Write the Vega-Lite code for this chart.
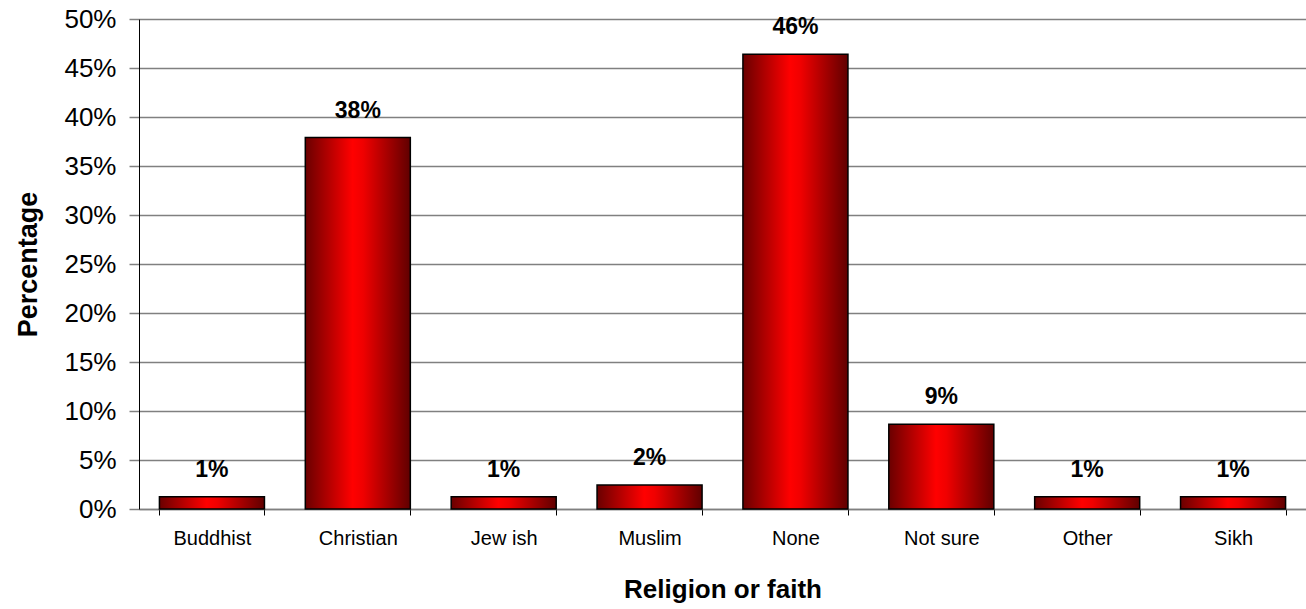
{
  "$schema": "https://vega.github.io/schema/vega-lite/v6.json",
  "width": 1167,
  "height": 490,
  "autosize": "none",
  "padding": {"left": 139, "top": 19, "right": 0, "bottom": 100},
  "background": "white",
  "config": {
    "font": "Liberation Sans",
    "view": {"stroke": null}
  },
  "data": {
    "values": [
      {"religion": "Buddhist", "pct": 0.0126},
      {"religion": "Christian", "pct": 0.379},
      {"religion": "Jew ish", "pct": 0.0126},
      {"religion": "Muslim", "pct": 0.0245},
      {"religion": "None", "pct": 0.464},
      {"religion": "Not sure", "pct": 0.0864},
      {"religion": "Other", "pct": 0.0126},
      {"religion": "Sikh", "pct": 0.0126}
    ]
  },
  "encoding": {
    "x": {
      "field": "religion",
      "type": "nominal",
      "sort": null,
      "scale": {"paddingInner": 0.28, "paddingOuter": 0.14},
      "axis": {
        "title": "Religion or faith",
        "titleFont": "Liberation Sans",
        "titleFontSize": 26,
        "titleFontWeight": "bold",
        "titleColor": "black",
        "titlePadding": 28,
        "labelAngle": 0,
        "labelFontSize": 20,
        "labelColor": "black",
        "labelPadding": 13,
        "tickBand": "extent",
        "tickSize": 6,
        "tickColor": "black",
        "domainColor": "#808080",
        "domainWidth": 1.5,
        "grid": false
      }
    },
    "y": {
      "field": "pct",
      "type": "quantitative",
      "scale": {"domain": [0, 0.5], "nice": false},
      "axis": {
        "title": "Percentage",
        "titleFont": "Liberation Sans",
        "titleFontSize": 27,
        "titleFontWeight": "bold",
        "titleColor": "black",
        "titlePadding": 21,
        "values": [0, 0.05, 0.1, 0.15, 0.2, 0.25, 0.3, 0.35, 0.4, 0.45, 0.5],
        "format": ".0%",
        "labelFontSize": 26,
        "labelColor": "black",
        "labelPadding": 13,
        "tickSize": 10,
        "tickColor": "#808080",
        "tickWidth": 1.5,
        "domainColor": "black",
        "domainWidth": 1,
        "grid": true,
        "gridColor": "#808080",
        "gridWidth": 1.5,
        "gridOpacity": 1
      }
    }
  },
  "layer": [
    {
      "mark": {
        "type": "bar",
        "stroke": "black",
        "strokeWidth": 1.5,
        "color": {
          "gradient": "linear",
          "x1": 0, "y1": 0, "x2": 1, "y2": 0,
          "stops": [
            {"offset": 0, "color": "#6a0000"},
            {"offset": 0.45, "color": "#ff0000"},
            {"offset": 0.55, "color": "#f00000"},
            {"offset": 1, "color": "#600000"}
          ]
        }
      }
    },
    {
      "mark": {
        "type": "text",
        "baseline": "alphabetic",
        "dy": -20,
        "fontSize": 23,
        "fontWeight": "bold",
        "color": "black"
      },
      "encoding": {
        "text": {"field": "pct", "type": "quantitative", "format": ".0%"}
      }
    }
  ]
}
